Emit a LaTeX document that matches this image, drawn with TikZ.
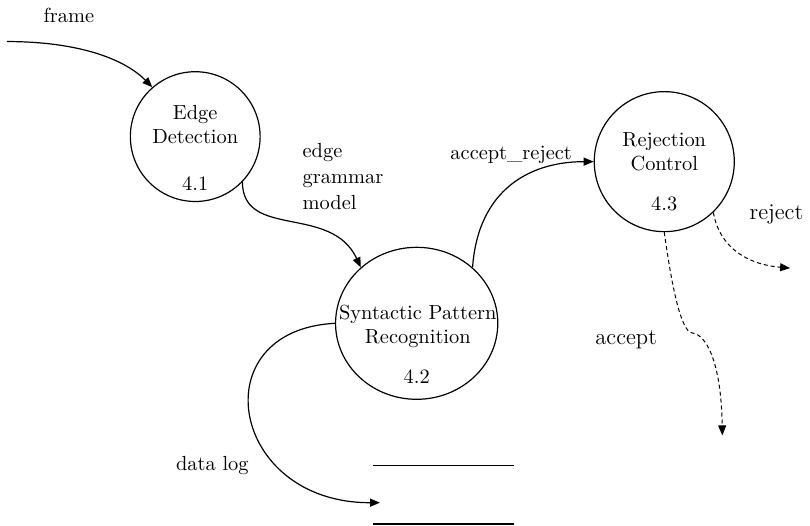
\documentclass[tikz,border=0pt]{standalone}
\usetikzlibrary{arrows.meta,shapes.geometric}

\begin{document}
\begin{tikzpicture}[font=\fontsize{10.2}{12}\selectfont,
  proc/.style={draw,line width=0.6pt,inner sep=0pt},
  flow/.style={line width=0.6pt,-{Triangle[length=5pt,width=4pt]}},
  dflow/.style={flow,line width=0.5pt,dash pattern=on 2pt off 1.5pt},
  big/.style={font=\fontsize{11.3}{14}\selectfont}]
\useasboundingbox (0,0) rectangle (14.23,9.24);
% processes
\node[proc,circle,minimum size=2.28cm] (edge) at (3.43,6.84) {};
\node[proc,ellipse,minimum width=2.85cm,minimum height=2.67cm] (syn) at (7.32,3.56) {};
\node[proc,circle,minimum size=2.46cm] (rej) at (11.67,6.40) {};
\node[align=center] (edgename) at (3.43,7.05) {Edge\\Detection};
\node[anchor=base] (edgeno) at (3.43,5.89) {4.1};
\node[align=center] (synname) at (7.34,3.50) {Syntactic Pattern\\Recognition};
\node[anchor=base] (synno) at (7.32,2.51) {4.2};
\node[align=center] (rejname) at (11.67,6.57) {Rejection\\Control};
\node[anchor=base] (rejno) at (11.67,5.55) {4.3};
% data store
\node[minimum width=2.46cm,minimum height=1.02cm] (store) at (7.79,0.55) {};
\draw[line width=0.6pt] (store.north west) -- (store.north east);
\draw[line width=0.6pt] (store.south west) -- (store.south east);
% free ends
\coordinate (fin) at (0.12,8.51);
\coordinate (acc) at (12.69,1.59);
\coordinate (rjt) at (13.88,4.53);
% flows
\draw[flow] (fin) .. controls (1.41,8.51) and (2.20,8.19) .. (edge.131);
\draw[flow] (edge.-44) .. controls (4.27,5.03) and (5.82,5.66) .. (syn.135);
\draw[flow] (syn.45) .. controls (8.40,5.91) and (9.31,6.40) .. (rej.west);
\draw[flow] (syn.west) .. controls (3.52,3.44) and (4.04,0.40) .. ([xshift=3.5pt,yshift=-4pt]store.west);
\draw[dflow] (rej.south) .. controls (11.81,4.15) and (11.97,3.41) .. (12.16,3.39)
  .. controls (12.39,3.37) and (12.67,2.92) .. (acc);
\draw[dflow] (rej.-46) .. controls (12.65,4.85) and (13.18,4.59) .. (rjt);
% labels
\node[anchor=base] (framel) at (1.21,8.84) {frame};
\node[anchor=north west,inner sep=0pt,align=left,font=\fontsize{10.2}{13}\selectfont] (egm) at (5.31,6.73) {edge\\grammar\\model};
\node[anchor=base] (arl) at (8.98,6.43) {accept\_reject};
\node[anchor=base,big] (rjl) at (13.64,5.38) {reject};
\node[anchor=base,big] (acl) at (11.00,3.18) {accept};
\node[anchor=base] (dll) at (3.73,0.98) {data log};
\end{tikzpicture}
\end{document}
